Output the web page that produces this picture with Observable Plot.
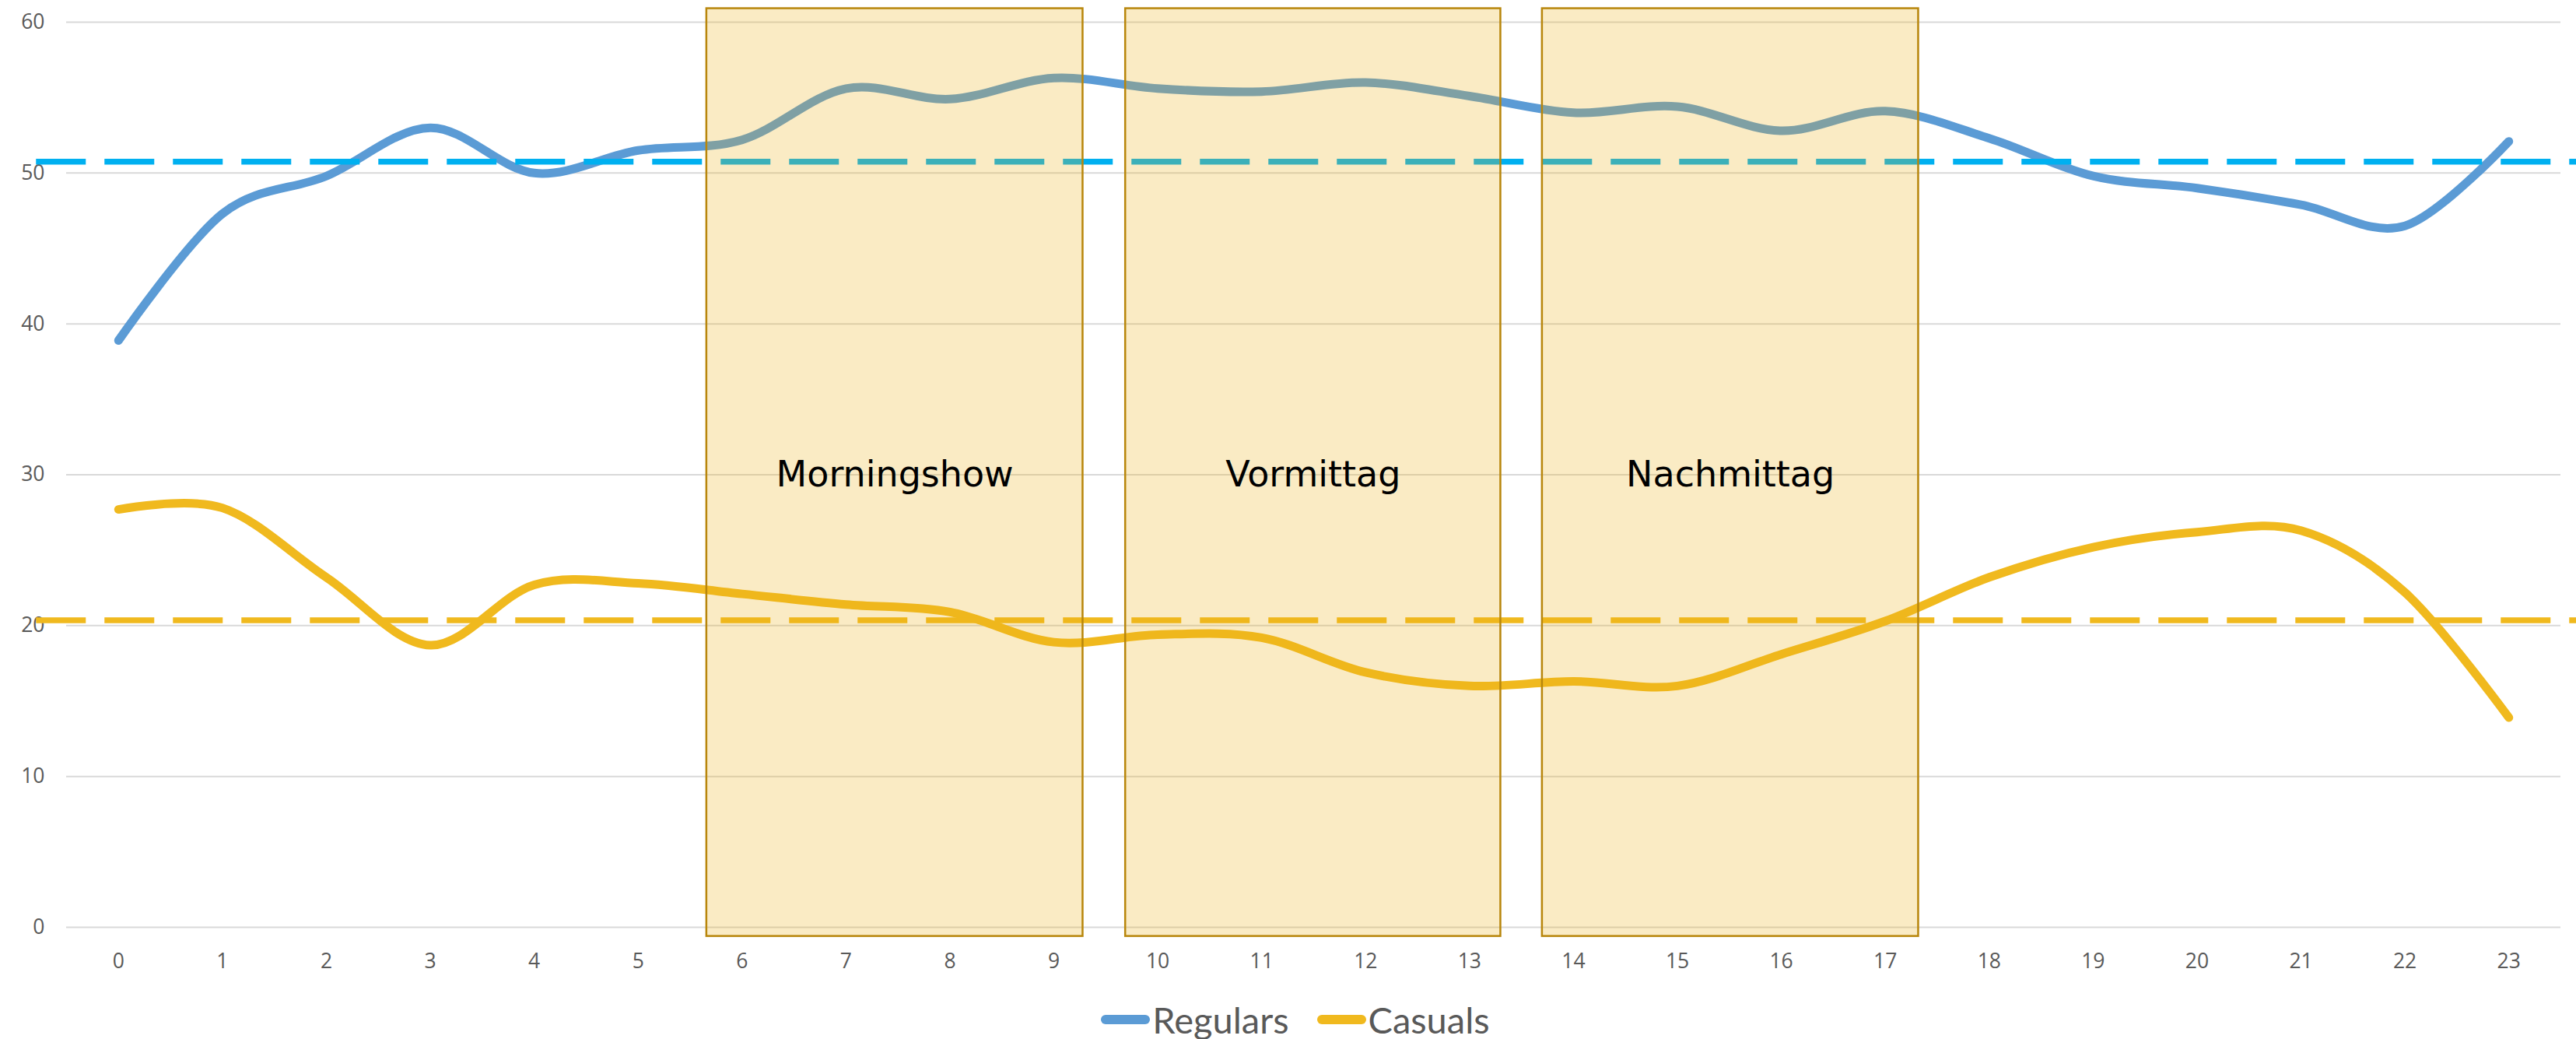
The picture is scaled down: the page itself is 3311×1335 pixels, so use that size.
<!DOCTYPE html>
<html>
<head>
<meta charset="utf-8">
<script src="https://cdn.jsdelivr.net/npm/d3@7"></script>
<script src="https://cdn.jsdelivr.net/npm/@observablehq/plot@0.6"></script>
<style>
  html, body { margin: 0; padding: 0; background: #fff; overflow: hidden; }
  #legend { display: flex; justify-content: center; align-items: center; height: 90px;
            font-family: Lato, "Open Sans", sans-serif; font-size: 47px; color: #595959; padding-left: 19px; }
  #legend .item { display: flex; align-items: center; }
  #legend .item + .item { margin-left: 36px; }
  #legend .sw { display: inline-block; width: 63px; height: 12px; border-radius: 6px; margin-right: 3px; }
</style>
</head>
<body>
<div id="chart"></div>
<div id="legend"></div>
<script>
// ---- data ----
const hours = [0,1,2,3,4,5,6,7,8,9,10,11,12,13,14,15,16,17,18,19,20,21,22,23];
const regulars = [38.9, 47.3, 49.8, 53.0, 50.0, 51.5, 52.2, 55.6, 54.9, 56.3, 55.6, 55.4,
                  56.0, 55.1, 54.0, 54.4, 52.8, 54.1, 52.3, 49.8, 49.0, 47.9, 46.5, 52.1];
const casuals  = [27.7, 27.8, 23.2, 18.7, 22.7, 22.8, 22.1, 21.4, 20.9, 18.9, 19.4, 19.2,
                  16.9, 16.0, 16.3, 16.0, 18.1, 20.3, 23.2, 25.2, 26.2, 26.3, 22.2, 13.9];
const seriesNames = ["Regulars", "Casuals"];
const averageValues = [50.75, 20.35];
const averageSpan = [-0.79, 23.7];
const segmentNames = ["Morningshow", "Vormittag", "Nachmittag"];
const segmentStart = [5.66, 9.69, 13.70];
const segmentEnd   = [9.28, 13.30, 17.32];
const segmentLow = -0.6;
const segmentHigh = 60.9;
const segmentLabelLevel = 30;
const yTicks = [0, 10, 20, 30, 40, 50, 60];

// ---- styles ----
const colors = { Regulars: "#5B9BD5", Casuals: "#F0B91E" };
const avgColors = ["#00B0F0", "#F0B91E"];

const regRows = hours.map((h, i) => ({ hour: h, value: regulars[i] }));
const casRows = hours.map((h, i) => ({ hour: h, value: casuals[i] }));
const avgRows = averageValues.map((v, i) => ({ name: seriesNames[i], value: v, color: avgColors[i] }));
const segRows = segmentNames.map((n, i) => ({ name: n, start: segmentStart[i], end: segmentEnd[i] }));

const chart = Plot.plot({
  width: 3311,
  height: 1265,
  marginLeft: 85,
  marginRight: 20,
  marginTop: 28,
  marginBottom: 74,
  style: { fontFamily: "'Open Sans', sans-serif", fontSize: "26.5px", color: "#595959", background: "white", overflow: "visible" },
  x: { domain: [-0.5, 23.5], label: null },
  y: { domain: [0, 60], label: null },
  marks: [
    Plot.gridY(yTicks, { stroke: "#D9D9D9", strokeOpacity: 1, strokeWidth: 2 }),
    Plot.axisY({ ticks: yTicks, tickSize: 0, tickPadding: 28, label: null }),
    Plot.axisX({ ticks: hours, tickSize: 0, tickPadding: 34, tickFormat: d => String(d), label: null }),
    Plot.line(regRows, { x: "hour", y: "value", stroke: colors.Regulars, strokeWidth: 11,
      curve: "cardinal", tension: 0, strokeLinecap: "round", strokeLinejoin: "round" }),
    Plot.line(casRows, { x: "hour", y: "value", stroke: colors.Casuals, strokeWidth: 11,
      curve: "cardinal", tension: 0, strokeLinecap: "round", strokeLinejoin: "round" }),
    Plot.ruleY(avgRows, { y: "value", x1: averageSpan[0], x2: averageSpan[1], stroke: "color",
      strokeWidth: 7.5, strokeDasharray: "64 24" }),
    Plot.rect(segRows, { x1: "start", x2: "end", y1: segmentLow, y2: segmentHigh,
      fill: "#EBB018", fillOpacity: 0.255, stroke: "#B8860B", strokeWidth: 2.5 }),
    Plot.text(segRows, { x: d => (d.start + d.end) / 2, y: segmentLabelLevel, text: "name",
      fill: "#000", fontSize: 46, fontFamily: "'DejaVu Sans', sans-serif", textAnchor: "middle" })
  ]
});
document.getElementById("chart").appendChild(chart);

const legend = document.getElementById("legend");
seriesNames.forEach(name => {
  const item = document.createElement("span");
  item.className = "item";
  const sw = document.createElement("span");
  sw.className = "sw";
  sw.style.background = colors[name];
  item.appendChild(sw);
  item.appendChild(document.createTextNode(name));
  legend.appendChild(item);
});
</script>
</body>
</html>
